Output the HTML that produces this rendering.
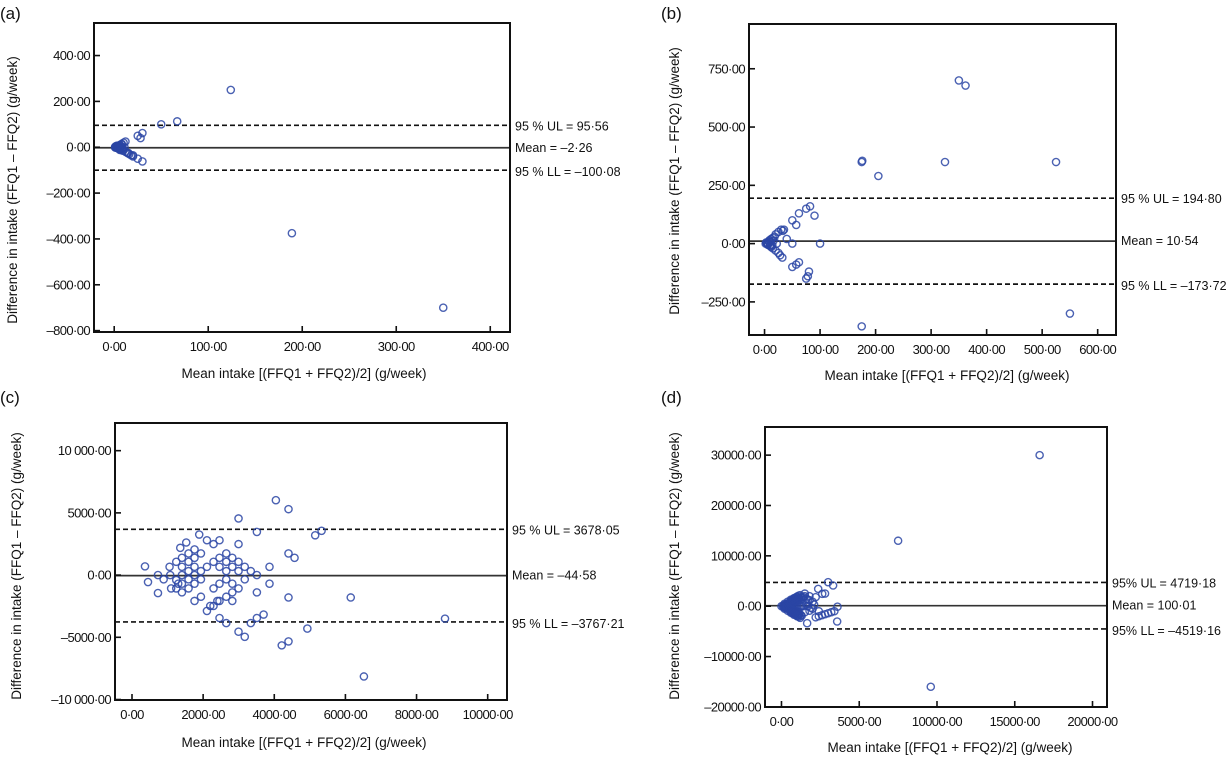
<!DOCTYPE html>
<html><head><meta charset="utf-8">
<style>
html,body{margin:0;padding:0;background:#fff;}
svg{display:block;font-family:"Liberation Sans",Arial,sans-serif;}
</style></head>
<body>
<svg id="fig" width="1231" height="757" viewBox="0 0 1231 757"></svg>
<script>
// ---- Panel (a) data ----
const aX = [1,2,3,4,5,6,7,8,9,10,3,5,7,9,11,12,14,16,18,20,25,28,30,50,67,124,189,350,15,20,25,30,12,8,6,1,2,3,4,5,6,2,4,6,8,10,1,3,5,7];
const aY = [0,3,-3,6,-6,10,-10,15,-15,20,2,-2,4,-4,0,-20,-25,-30,-35,-40,50,40,62,100,113,250,-375,-700,-25,-35,-50,-62,25,12,-12,2,-2,1,-1,3,-3,5,-5,8,-8,-10,-1,7,-7,0];
const aYTicks = [400,200,0,-200,-400,-600,-800];
const aYLabels = ["400·00","200·00","0·00","–200·00","–400·00","–600·00","–800·00"];
const aXTicks = [0,100,200,300,400];
const aXLabels = ["0·00","100·00","200·00","300·00","400·00"];
const aLines = [95.56,-2.26,-100.08];
const aLineLabels = ["95 % UL = 95·56","Mean = –2·26","95 % LL = –100·08"];

// ---- Panel (b) data ----
const bX = [175,176,205,325,350,362,525,550,175,100,90,82,75,62,50,57,30,33,25,20,40,50,75,78,80,62,57,50,32,28,20,5,8,10,12,15,18,3,6,9,12,15,22,25,35,2,4,6,8,10,12,14,16];
const bY = [350,355,290,350,700,678,350,-300,-355,0,120,160,150,130,100,80,60,55,50,40,20,0,-150,-140,-120,-80,-90,-100,-60,-50,-30,0,10,-10,20,-20,30,5,-5,15,-15,25,0,-40,60,0,3,-3,6,-6,8,-8,12];
const bYTicks = [750,500,250,0,-250];
const bYLabels = ["750·00","500·00","250·00","0·00","–250·00"];
const bXTicks = [0,100,200,300,400,500,600];
const bXLabels = ["0·00","100·00","200·00","300·00","400·00","500·00","600·00"];
const bLines = [194.80,10.54,-173.72];
const bLineLabels = ["95 % UL = 194·80","Mean = 10·54","95 % LL = –173·72"];

// ---- Panel (c) data ----
const cX = [365,450,730,730,890,1056,1075,1244,1244,1244,1404,1404,1404,1404,1404,1357,1525,1590,1590,1590,1590,1590,1758,1758,1758,1758,1758,1758,1938,1938,1938,1938,1890,2107,2107,2292,2292,2292,2107,2292,2460,2460,2460,2460,2460,2460,2650,2650,2650,2650,2650,2650,2820,2820,2820,2820,2820,2995,2995,2995,2995,2995,2995,3170,3170,3170,3340,3340,3511,3511,3511,3511,3700,3866,3866,4045,4400,4400,4570,4400,4400,4210,4930,5150,5330,6150,6520,8800,1100,1300,2200,2400];
const cY = [700,-560,-1445,0,-345,666,0,1070,-400,-1070,1390,666,0,-690,-1390,2190,2620,1740,1070,320,-345,-1070,2060,1390,666,0,-690,-2080,1740,320,-345,-1740,3260,2800,666,2490,1070,-1070,-2880,-2480,2800,1390,666,-690,-2080,-3450,1740,1070,320,-345,-1740,-3860,1390,666,-690,-1390,-2080,4550,2490,1070,320,-1070,-4550,666,-345,-4960,320,-3860,3470,0,-1390,-3450,-3170,666,-690,6020,5300,1740,1390,-1800,-5330,-5650,-4300,3200,3560,-1800,-8150,-3500,-1070,-690,-2480,-2080];
const cYTicks = [10000,5000,0,-5000,-10000];
const cYLabels = ["10 000·00","5000·00","0·00","–5000·00","–10 000·00"];
const cXTicks = [0,2000,4000,6000,8000,10000];
const cXLabels = ["0·00","2000·00","4000·00","6000·00","8000·00","10000·00"];
const cLines = [3678.05,-44.58,-3767.21];
const cLineLabels = ["95 % UL = 3678·05","Mean = –44·58","95 % LL = –3767·21"];

// ---- Panel (d) data ----
const dX = [16600,7500,9600,1650,3580,3000,3320,2360,2620,2800,1500,1800,2200,2200,2400,2600,2800,3000,3200,3400,3600,0,100,200,300,400,500,600,700,800,900,1000,1100,1200,1300,1400,200,400,600,800,1000,1200,200,400,600,800,1000,1200,1400,1600,1800,2000,300,500,700,900,1100,1300,1500,1700,300,500,700,900,1100,1300,1500,1800,2000,2400,
  150,250,350,450,550,650,750,850,950,1050,1150,1250,150,250,350,450,550,650,750,850,950,1050,1150,1250,350,450,550,650,750,850,950,1050,1150,350,450,550,650,750,850,950,1050,1150,600,700,800,900,1000,1100,600,700,800,900,1000,1100,1600,1700,1900,2100];
const dY = [30000,13000,-16000,-3380,-3040,4770,4110,3440,2450,2500,2500,2000,1800,-2200,-2000,-1800,-1600,-1400,-1200,-1000,-100,0,0,0,0,0,0,0,0,0,0,0,0,0,0,0,500,900,1300,1600,1900,2200,-500,-900,-1300,-1700,-2000,-2300,1800,1500,1200,900,250,700,1000,1300,1500,1700,2000,1300,-250,-600,-1000,-1400,-1700,-1900,-1200,-900,-500,-1000,
  200,300,450,600,750,900,1050,1200,1350,1500,1650,1800,-200,-300,-450,-600,-750,-900,-1050,-1200,-1350,-1500,-1650,-1800,150,300,450,600,750,900,1050,1200,1350,-150,-300,-450,-600,-750,-900,-1050,-1200,-1350,1100,1300,1500,1700,1900,2100,-1100,-1300,-1500,-1700,-1900,-2100,500,0,-300,300];
const dYTicks = [30000,20000,10000,0,-10000,-20000];
const dYLabels = ["30000·00","20000·00","10000·00","0·00","–10000·00","–20000·00"];
const dXTicks = [0,5000,10000,15000,20000];
const dXLabels = ["0·00","5000·00","10000·00","15000·00","20000·00"];
const dLines = [4719.18,100.01,-4519.16];
const dLineLabels = ["95% UL = 4719·18","Mean = 100·01","95% LL = –4519·16"];

const NS = "http://www.w3.org/2000/svg";
const svg = document.getElementById('fig');
function mk(tag, attrs, parent){
  const e = document.createElementNS(NS, tag);
  for (const k in attrs) e.setAttribute(k, attrs[k]);
  (parent||svg).appendChild(e);
  return e;
}

function panel(p){
  const g = mk('g', {});
  
  
  const sx = v => p.L + (v - p.xmin) / (p.xmax - p.xmin) * (p.R - p.L);
  const sy = v => p.B - (v - p.ymin) / (p.ymax - p.ymin) * (p.B - p.T);

  const lab = mk('text', {x:p.labX, y:p.labY, 'font-size':17, fill:'#111'}, g);
  lab.textContent = '(' + p.id + ')';
  
  

  p.lines.forEach((v, i) => {
    const ln = mk('line', {x1:p.L, x2:p.R, y1:sy(v), y2:sy(v), stroke: i===1?'#333':'#111', 'stroke-width':1.7, 'stroke-dasharray': i===1?'none':'5,3'}, g);
    
    
    const t = mk('text', {x:p.R+5, y:sy(v)+4 + (i===0?1:(i===2?2:0)), 'font-size':12.5, fill:'#111'}, g);
    t.textContent = p.lineLabels[i];
    
    
  });

  for (let i = 0; i < p.xs.length; i++){
    const c = mk('circle', {cx:sx(p.xs[i]), cy:sy(p.ys[i]), r:3.6, fill:'none', stroke:'#2a45a5', 'stroke-width':1.4, 'stroke-opacity':0.85}, g);
    
    
  }

  const fr = mk('rect', {x:p.L, y:p.T, width:p.R-p.L, height:p.B-p.T, fill:'none', stroke:'#111', 'stroke-width':2}, g);
  
  

  p.yTicks.forEach((v, i) => {
    const y = sy(v);
    const tk = mk('line', {x1:p.L, x2:p.L+6, y1:y, y2:y, stroke:'#111', 'stroke-width':1.6}, g);
    
    
    const t = mk('text', {x:p.L-4, y:y+4.5, 'font-size':13, 'text-anchor':'end', fill:'#111', 'letter-spacing':'-0.6'}, g);
    t.textContent = p.yLabels[i];
    
    
  });
  p.xTicks.forEach((v, i) => {
    const x = sx(v);
    const tk = mk('line', {x1:x, x2:x, y1:p.B, y2:p.B-6, stroke:'#111', 'stroke-width':1.6}, g);
    
    
    const t = mk('text', {x:x, y:p.B+19, 'font-size':13, 'text-anchor':'middle', fill:'#111', 'letter-spacing':'-0.6'}, g);
    t.textContent = p.xLabels[i];
    
    
  });

  const xt = mk('text', {x:p.xtX, y:p.xtY, 'font-size':13.5, 'text-anchor':'middle', fill:'#111'}, g);
  xt.textContent = 'Mean intake [(FFQ1 + FFQ2)/2] (g/week)';
  
  
  const yt = mk('text', {x:0, y:0, 'font-size':13.5, 'text-anchor':'middle', fill:'#111', transform:'translate(' + p.ytX + ',' + p.ytY + ') rotate(-90)'}, g);
  yt.textContent = 'Difference in intake (FFQ1 – FFQ2) (g/week)';
  
  
}

panel({id:'a', L:94, R:510, T:23, B:332, xmin:-21.5, xmax:421, ymin:-806, ymax:542,
  xs:aX, ys:aY, yTicks:aYTicks, yLabels:aYLabels, xTicks:aXTicks, xLabels:aXLabels, lines:aLines, lineLabels:aLineLabels,
  labX:0, labY:19, xtX:304, xtY:378, ytX:17, ytY:190});
panel({id:'b', L:749, R:1116, T:24, B:335, xmin:-28, xmax:633, ymin:-392, ymax:942,
  xs:bX, ys:bY, yTicks:bYTicks, yLabels:bYLabels, xTicks:bXTicks, xLabels:bXLabels, lines:bLines, lineLabels:bLineLabels,
  labX:661, labY:19, xtX:947, xtY:380, ytX:679, ytY:181});
panel({id:'c', L:115, R:507, T:423, B:700, xmin:-478, xmax:10543, ymin:-10040, ymax:12224,
  xs:cX, ys:cY, yTicks:cYTicks, yLabels:cYLabels, xTicks:cXTicks, xLabels:cXLabels, lines:cLines, lineLabels:cLineLabels,
  labX:0, labY:403, xtX:304, xtY:747, ytX:21, ytY:566});
panel({id:'d', L:765, R:1107, T:427, B:707, xmin:-1060, xmax:20932, ymin:-20020, ymax:35586,
  xs:dX, ys:dY, yTicks:dYTicks, yLabels:dYLabels, xTicks:dXTicks, xLabels:dXLabels, lines:dLines, lineLabels:dLineLabels,
  labX:661, labY:403, xtX:950, xtY:752, ytX:679, ytY:566});
</script>
</body></html>
